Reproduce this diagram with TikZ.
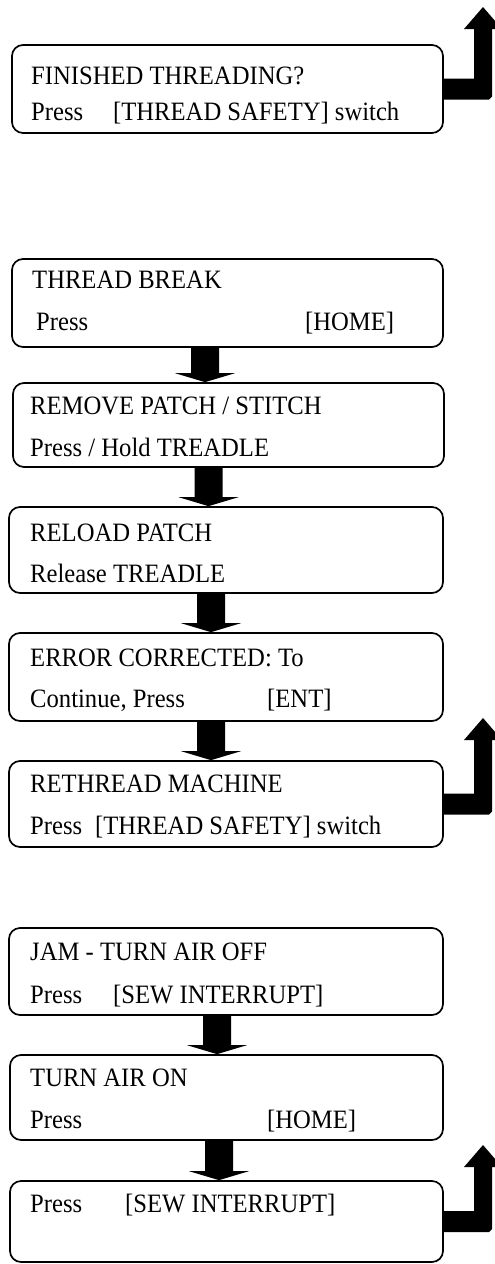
\documentclass[tikz,border=0pt]{standalone}
\usepackage{fontspec}
\setmainfont{Liberation Serif}[FakeStretch=0.93]
\usetikzlibrary{calc}

\tikzset{
  panel/.style={draw, line width=1.7pt, rounded corners=11pt, inner sep=0pt},
  msg/.style={anchor=base west, inner sep=0pt, font=\fontsize{26.5}{30}\selectfont},
  blockarrow/.style={fill=black, draw=none},
}

% thick block arrow from the bottom of one panel to the top of the next,
% with its shaft centred at x = #3
\newcommand\dropto[3]{%
  \fill[blockarrow] let \p1=(#1.south), \p2=(#2.north) in
    (#3pt-14pt,\y1) -- (#3pt+14pt,\y1) -- (#3pt+14pt,\y2+9pt) --
    (#3pt+30pt,\y2+9pt) -- (#3pt,\y2) -- (#3pt-30pt,\y2+9pt) --
    (#3pt-14pt,\y2+9pt) -- cycle;}

% bent return arrow leaving a panel on the right and pointing upwards
\newcommand\loopup[3]{%
  \coordinate (#2) at (483,#3);
  \fill[blockarrow] let \p1=(#1.east), \p2=(#2) in
    (\x1,\y1+10.5pt) -- (\x2-9pt,\y1+10.5pt) -- (\x2-9pt,\y2-22pt) --
    (\x2-19pt,\y2-22pt) -- (\x2,\y2) -- (\x2+19pt,\y2-22pt) --
    (\x2+9pt,\y2-22pt) -- (\x2+9pt,\y1-7.5pt) -- (\x2+6pt,\y1-10.5pt) --
    (\x1,\y1-10.5pt) -- cycle;}

\begin{document}
\begin{tikzpicture}[x=1pt, y=-1pt]
\useasboundingbox (0,0) rectangle (495,1264);

% panels
\node[panel, minimum width=431pt, minimum height=88pt] (b1) at (227.5,89) {};
\node[panel, minimum width=431pt, minimum height=88pt] (b2) at (227.5,303) {};
\node[panel, minimum width=431pt, minimum height=84pt] (b3) at (228.5,425) {};
\node[panel, minimum width=434pt, minimum height=86pt] (b4) at (226,550) {};
\node[panel, minimum width=434pt, minimum height=88pt] (b5) at (226,677) {};
\node[panel, minimum width=434pt, minimum height=86pt] (b6) at (226,804) {};
\node[panel, minimum width=434pt, minimum height=87pt] (b7) at (226,971.5) {};
\node[panel, minimum width=433pt, minimum height=85pt] (b8) at (226.5,1097.5) {};
\node[panel, minimum width=433pt, minimum height=81pt] (b9) at (226.5,1221.5) {};

% panel texts
\node[msg] (t1a) at (31,84) {FINISHED THREADING?};
\node[msg] (t1b) at (31,120) {\makebox[82pt][l]{Press}[THREAD SAFETY] switch};
\node[msg] (t2a) at (32,288) {THREAD BREAK};
\node[msg] (t2b) at (36,330) {\makebox[269pt][l]{Press}[HOME]};
\node[msg] (t3a) at (30,414) {REMOVE PATCH / STITCH};
\node[msg] (t3b) at (30,456) {Press / Hold TREADLE};
\node[msg] (t4a) at (30,541) {RELOAD PATCH};
\node[msg] (t4b) at (30,582) {Release TREADLE};
\node[msg] (t5a) at (30,666) {ERROR CORRECTED: To};
\node[msg] (t5b) at (30,707) {\makebox[237pt][l]{Continue, Press}[ENT]};
\node[msg] (t6a) at (30,792) {RETHREAD MACHINE};
\node[msg] (t6b) at (30,834) {\makebox[65pt][l]{Press}[THREAD SAFETY] switch};
\node[msg] (t7a) at (30,960) {JAM - TURN AIR OFF};
\node[msg] (t7b) at (30,1003) {\makebox[83pt][l]{Press}[SEW INTERRUPT]};
\node[msg] (t8a) at (30,1086) {TURN AIR ON};
\node[msg] (t8b) at (30,1128) {\makebox[237pt][l]{Press}[HOME]};
\node[msg] (t9a) at (30,1212) {\makebox[95pt][l]{Press}[SEW INTERRUPT]};

% downward steps
\dropto{b2}{b3}{205}
\dropto{b3}{b4}{208.5}
\dropto{b4}{b5}{211}
\dropto{b5}{b6}{211}
\dropto{b7}{b8}{217}
\dropto{b8}{b9}{219}

% return arrows
\loopup{b1}{r1}{7}
\loopup{b6}{r6}{718}
\loopup{b9}{r9}{1145}
\end{tikzpicture}
\end{document}
